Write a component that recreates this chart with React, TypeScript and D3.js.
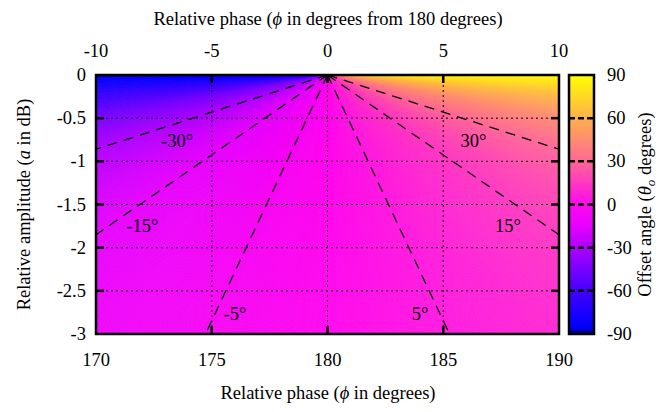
import React from 'react';
import * as d3 from 'd3';

// offset angle field: each ray from the null point (180, 0) carries one offset angle,
// given by where it leaves the plot (phase, amplitude)
const fieldAngle = [-90, -80, -70, -60, -45, -30, -20, -15, -10, -5, 0, 5, 10, 15, 20, 30, 45, 60, 70, 80, 90];
const fieldPhaseEnd = [170, 170, 170, 170, 170, 170, 170, 170, 170, 174.73, 180, 185.27, 190, 190, 190, 190, 190, 190, 190, 190, 190];
const fieldAmpEnd = [0, -0.09, -0.18, -0.29, -0.5, -0.86, -1.36, -1.85, -2.82, -3, -3, -3, -2.82, -1.85, -1.36, -0.86, -0.5, -0.29, -0.18, -0.09, 0];

// labelled contours
const contourLevels = [-30, -15, -5, 5, 15, 30];
const contourPhaseEnd = [170, 170, 174.73, 185.27, 190, 190];
const contourAmpEnd = [-0.86, -1.85, -3, -3, -1.85, -0.86];
const labelPhase = [173.5, 172.0, 176.0, 184.0, 187.8, 186.3];
const labelAmp = [-0.76, -1.75, -2.77, -2.77, -1.75, -0.76];

// palette
const paletteValues = [-90, -85, -60, -30, -15, 0, 30, 60, 90];
const paletteColors = ['#000070', '#0000ff', '#4400ff', '#ae00ff', '#e600ff', '#ff08ee', '#ff6896', '#ffb04c', '#ffff00'];

const phaseTicks = [170, 175, 180, 185, 190];
const relPhaseTicks = [-10, -5, 0, 5, 10];
const ampTicks = [0, -0.5, -1, -1.5, -2, -2.5, -3];
const cbTicks = [-90, -60, -30, 0, 30, 60, 90];

const FONT = 'Liberation Serif';
const FS = 18.5;
const TXT = { fontFamily: FONT, fontSize: `${FS}px` };

const width = 672;
const height = 412;
const plot = { left: 96, right: 559, top: 75, bottom: 334 };
const cb = { left: 569, right: 594 };

const T = (props: any) => <text fontFamily={FONT} fontSize={FS} style={TXT} {...props} />;

const App = () => {
  const x = d3.scaleLinear().domain([170, 190]).range([plot.left, plot.right]);
  const xTop = d3.scaleLinear().domain([-10, 10]).range([plot.left, plot.right]);
  const y = d3.scaleLinear().domain([-3, 0]).range([plot.bottom, plot.top]);
  const color = d3.scaleLinear<string>().domain(paletteValues).range(paletteColors).interpolate(d3.interpolateRgb);
  const cbY = d3.scaleLinear().domain([-90, 90]).range([plot.bottom, plot.top]);

  // field as thin wedges around the null point
  const ox = x(180);
  const oy = y(0);
  const rays = fieldAngle.map((t, i) => ({
    t,
    a: Math.atan2(y(fieldAmpEnd[i]) - oy, x(fieldPhaseEnd[i]) - ox),
  })).sort((p, q) => p.a - q.a);
  const angleAt = d3.scaleLinear().domain(rays.map(r => r.a)).range(rays.map(r => r.t));
  const steps = 900;
  const R = 900;
  const wedges = d3.range(steps).map(k => {
    const a0 = (Math.PI * k) / steps;
    const a1 = (Math.PI * (k + 1)) / steps;
    return {
      d: `M${ox},${oy - 1}L${ox + R * Math.cos(a0)},${oy + R * Math.sin(a0)}L${ox + R * Math.cos(a1)},${oy + R * Math.sin(a1)}Z`,
      c: color(angleAt((a0 + a1) / 2)),
    };
  });

  const pw = plot.right - plot.left;
  const ph = plot.bottom - plot.top;
  const tl = 8;
  const midY = (plot.top + plot.bottom) / 2;

  return (
    <svg width={width} height={height} style={{ position: 'absolute', left: 0, top: 0 }}>
      <defs>
        <clipPath id="plotclip">
          <rect x={plot.left} y={plot.top} width={pw} height={ph} />
        </clipPath>
        <linearGradient id="cbgrad" x1={0} y1={1} x2={0} y2={0}>
          {paletteValues.map((v, i) => (
            <stop key={v} offset={(v + 90) / 180} stopColor={paletteColors[i]} />
          ))}
        </linearGradient>
      </defs>

      <g clipPath="url(#plotclip)">
        {wedges.map((w, i) => (
          <path key={i} d={w.d} fill={w.c} stroke={w.c} strokeWidth={0.6} />
        ))}
      </g>

      {/* grid */}
      <g stroke="#000" strokeWidth={1} strokeDasharray="2,3">
        {phaseTicks.slice(1, -1).map(t => (
          <line key={t} x1={x(t)} x2={x(t)} y1={plot.top} y2={plot.bottom} />
        ))}
        {ampTicks.slice(1, -1).map(t => (
          <line key={t} x1={plot.left} x2={plot.right} y1={y(t)} y2={y(t)} />
        ))}
      </g>

      {/* contours */}
      <g clipPath="url(#plotclip)" stroke="#000" strokeWidth={1.3} strokeDasharray="10,7">
        {contourLevels.map((lv, i) => (
          <line key={lv} x1={ox} y1={oy} x2={x(contourPhaseEnd[i])} y2={y(contourAmpEnd[i])} />
        ))}
      </g>
      {contourLevels.map((lv, i) => (
        <T key={lv} x={x(labelPhase[i])} y={y(labelAmp[i]) + 6} textAnchor="middle">{`${lv}°`}</T>
      ))}

      {/* ticks */}
      <g stroke="#000" strokeWidth={2.5}>
        {phaseTicks.slice(1, -1).map(t => (
          <line key={t} x1={x(t)} x2={x(t)} y1={plot.bottom} y2={plot.bottom - tl} />
        ))}
        {relPhaseTicks.slice(1, -1).map(t => (
          <line key={t} x1={xTop(t)} x2={xTop(t)} y1={plot.top} y2={plot.top + tl} />
        ))}
        {ampTicks.slice(1, -1).map(t => (
          <g key={t}>
            <line x1={plot.left} x2={plot.left + tl} y1={y(t)} y2={y(t)} />
            <line x1={plot.right} x2={plot.right - tl} y1={y(t)} y2={y(t)} />
          </g>
        ))}
      </g>
      <rect x={plot.left} y={plot.top} width={pw} height={ph} fill="none" stroke="#000" strokeWidth={2.5} />

      {/* tick labels */}
      {phaseTicks.map(t => (
        <T key={t} x={x(t)} y={366} textAnchor="middle">{t}</T>
      ))}
      {relPhaseTicks.map(t => (
        <T key={t} x={xTop(t)} y={57} textAnchor="middle">{t}</T>
      ))}
      {ampTicks.map(t => (
        <T key={t} x={86} y={y(t) + 6} textAnchor="end">{t}</T>
      ))}

      {/* titles */}
      <T x={328} y={25} textAnchor="middle">
        Relative phase (<tspan fontStyle="italic">ϕ</tspan> in degrees from 180 degrees)
      </T>
      <T x={328} y={399} textAnchor="middle">
        Relative phase (<tspan fontStyle="italic">ϕ</tspan> in degrees)
      </T>
      <T transform={`translate(30,${midY}) rotate(-90)`} textAnchor="middle">
        Relative amplitude (<tspan fontStyle="italic">a</tspan> in dB)
      </T>

      {/* colour box */}
      <rect x={cb.left} y={plot.top} width={cb.right - cb.left} height={ph} fill="url(#cbgrad)" />
      <g stroke="#000" strokeWidth={2.5} strokeDasharray="6,3">
        {cbTicks.slice(1, -1).map(t => (
          <line key={t} x1={cb.left} x2={cb.right} y1={cbY(t)} y2={cbY(t)} />
        ))}
      </g>
      <rect x={cb.left} y={plot.top} width={cb.right - cb.left} height={ph} fill="none" stroke="#000" strokeWidth={2.5} />
      {cbTicks.map(t => (
        <T key={t} x={607} y={cbY(t) + 6}>{t}</T>
      ))}
      <T transform={`translate(651,${midY}) rotate(-90)`} textAnchor="middle">
        Offset angle (<tspan fontStyle="italic">θ</tspan><tspan fontStyle="italic" fontSize={13} dy={4}>o</tspan><tspan dy={-4}> degrees)</tspan>
      </T>
    </svg>
  );
};

export default App;
